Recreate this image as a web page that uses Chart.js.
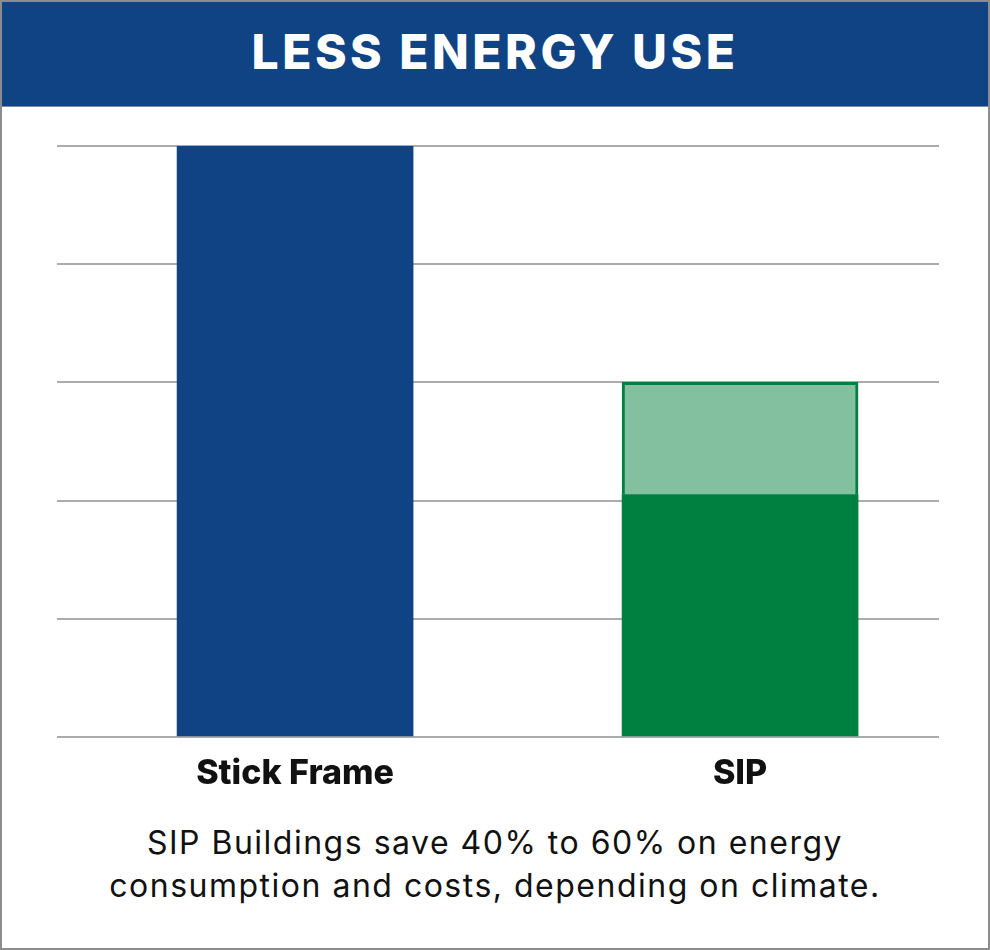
<!DOCTYPE html>
<html>
<head>
<meta charset="utf-8">
<script src="https://cdn.jsdelivr.net/npm/chart.js@4"></script>
<style>
  html, body { margin: 0; padding: 0; background: #fff; }
  #frame {
    position: relative; width: 990px; height: 950px;
    box-sizing: border-box; border: 2px solid #8c8c8c; overflow: hidden;
    font-family: 'Inter', sans-serif;
  }
  #banner {
    position: absolute; left: 0; top: 0; width: 100%; height: 104px;
    background: #0f4383; border-bottom: 1px solid #7a8aa0;
    color: #fff; font-weight: 800; font-size: 48px; text-align: center;
    line-height: 100px; letter-spacing: 3.5px;
  }
  #wrap { position: absolute; left: -2px; top: 104px; width: 990px; height: 700px; }
  #caption {
    position: absolute; left: 0; top: 819px; width: 100%;
    text-align: center; font-size: 32px; line-height: 43px; color: #111;
    letter-spacing: 1.5px;
  }
</style>
</head>
<body>
<div id="frame">
  <div id="banner">LESS ENERGY USE</div>
  <div id="wrap"><canvas id="chart"></canvas></div>
  <div id="caption">SIP Buildings save 40% to 60% on energy<br>consumption and costs, depending on climate.</div>
</div>
<script>
// categories and relative energy use (Stick Frame = 100)
var categories = ['Stick Frame', 'SIP'];
var stickFrame = [100, null];
var sipBase    = [null, 41];   // solid green part
var sipRange   = [null, 19];   // light green part up to 60
var yTicks     = [0, 20, 40, 60, 80, 100];

function points(vals) {
  return vals.map((v, i) => ({ x: i, y: v }));
}

Chart.defaults.font.family = 'Inter';

new Chart(document.getElementById('chart'), {
  type: 'bar',
  data: {
    datasets: [
      { label: 'Stick Frame', data: points(stickFrame), backgroundColor: '#0f4383', barThickness: 236 },
      { label: 'SIP', data: points(sipBase), backgroundColor: '#008040', barThickness: 236 },
      { label: 'SIP range', data: points(sipRange), backgroundColor: '#82c0a0',
        borderColor: '#008040', borderWidth: 3, borderSkipped: 'bottom', barThickness: 236 }
    ]
  },
  options: {
    responsive: true,
    maintainAspectRatio: false,
    animation: false,
    devicePixelRatio: 1,
    layout: { padding: { top: 40, left: 57, right: 51, bottom: 0 } },
    plugins: { legend: { display: false }, tooltip: { enabled: false } },
    scales: {
      x: {
        type: 'linear', stacked: true, offset: false,
        min: -0.535, max: 1.447,
        afterBuildTicks: axis => { axis.ticks = categories.map((c, i) => ({ value: i })); },
        afterFit: axis => { axis.height = 69; },
        ticks: {
          callback: v => categories[v],
          font: { size: 34, weight: 800 }, color: '#111', padding: 8, maxRotation: 0
        },
        grid: { display: false },
        border: { display: false }
      },
      y: {
        stacked: true, min: 0, max: 100,
        afterBuildTicks: axis => { axis.ticks = yTicks.map(v => ({ value: v })); },
        ticks: { display: false },
        grid: { color: '#ababab', lineWidth: 2, drawTicks: false },
        border: { display: false }
      }
    }
  }
});
</script>
</body>
</html>
